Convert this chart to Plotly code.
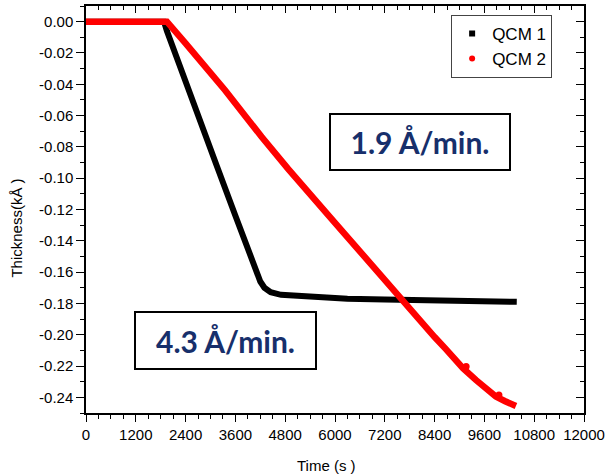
import plotly.graph_objects as go

# ---- data ----
qcm1_time = [0, 1880, 1950, 2123, 2720, 3157, 3600, 3900, 4100, 4200, 4300, 4450, 4700,
             5400, 6300, 7200, 8000, 9000, 10380]
qcm1_thick = [0.0, 0.0, -0.006, -0.018, -0.0615, -0.0925, -0.124, -0.145, -0.160, -0.166,
              -0.1700, -0.1728, -0.1745, -0.176, -0.177, -0.1775, -0.178, -0.1785, -0.179]

qcm2_time = [0, 1950, 2400, 3356, 4230, 4870, 6000, 7000, 7729, 8400, 8683, 9089, 9400,
             9876, 10100, 10360]
qcm2_thick = [0.0, 0.0, -0.0138, -0.0440, -0.0735, -0.094, -0.1285, -0.1595, -0.182, -0.2015,
              -0.2095, -0.2215, -0.229, -0.2395, -0.2425, -0.2455]

qcm2_outlier_time = [9160, 9950]
qcm2_outlier_thick = [-0.2203, -0.2385]

x_tick_vals = [0, 1200, 2400, 3600, 4800, 6000, 7200, 8400, 9600, 10800, 12000]
x_tick_text = ["0", "1200", "2400", "3600", "4800", "6000", "7200", "8400", "9600", "10800", "12000"]
y_tick_vals = [0.0, -0.02, -0.04, -0.06, -0.08, -0.10, -0.12, -0.14, -0.16, -0.18, -0.20, -0.22, -0.24]
y_tick_text = ["0.00", "-0.02", "-0.04", "-0.06", "-0.08", "-0.10", "-0.12", "-0.14", "-0.16",
               "-0.18", "-0.20", "-0.22", "-0.24"]

series_names = ["QCM 1", "QCM 2"]
rate_labels = ["1.9 Å/min.", "4.3 Å/min."]

BLACK = "#000000"
RED = "#ff0000"
NAVY = "#172f6b"
FONT = "Liberation Sans, Arial, sans-serif"

fig = go.Figure()

fig.add_trace(go.Scatter(x=qcm1_time, y=qcm1_thick, mode="lines",
                         line=dict(color=BLACK, width=6), showlegend=False))
fig.add_trace(go.Scatter(x=qcm2_time, y=qcm2_thick, mode="lines",
                         line=dict(color=RED, width=6.5), showlegend=False))
fig.add_trace(go.Scatter(x=qcm2_outlier_time, y=qcm2_outlier_thick, mode="markers",
                         marker=dict(color=RED, size=7), showlegend=False))

# legend-only entries (marker symbols as in the reference)
fig.add_trace(go.Scatter(x=[None], y=[None], mode="markers", name=series_names[0],
                         marker=dict(symbol="square", size=6, color=BLACK)))
fig.add_trace(go.Scatter(x=[None], y=[None], mode="markers", name=series_names[1],
                         marker=dict(symbol="circle", size=6, color=RED)))

# dummy trace for mirrored top/right axes
fig.add_trace(go.Scatter(x=[None], y=[None], xaxis="x2", yaxis="y2", showlegend=False,
                         hoverinfo="skip"))

axis_common = dict(showline=True, linecolor=BLACK, linewidth=1.5, showgrid=False,
                   zeroline=False, tickcolor=BLACK, tickwidth=1.3)

fig.update_layout(
    width=611, height=475,
    margin=dict(l=86, r=22, t=6, b=62),
    paper_bgcolor="white", plot_bgcolor="white",
    font=dict(family=FONT, color=BLACK, size=15),
    xaxis=dict(range=[0, 12000], tickmode="array", tickvals=x_tick_vals, ticktext=x_tick_text,
               ticks="outside", ticklen=7,
               minor=dict(dtick=300, tick0=0, ticks="outside", ticklen=4, tickcolor=BLACK, tickwidth=1.2),
               tickfont=dict(size=15), **axis_common),
    yaxis=dict(range=[-0.25, 0.01], tickmode="array", tickvals=y_tick_vals, ticktext=y_tick_text,
               ticks="outside", ticklen=8,
               minor=dict(dtick=0.01, tick0=0, ticks="outside", ticklen=4, tickcolor=BLACK, tickwidth=1.2),
               tickfont=dict(size=15), **axis_common),
    xaxis2=dict(overlaying="x", side="top", matches="x", range=[0, 12000],
                tickmode="array", tickvals=x_tick_vals, showticklabels=False,
                ticks="inside", ticklen=7,
                minor=dict(dtick=300, tick0=0, ticks="inside", ticklen=4, tickcolor=BLACK, tickwidth=1.2),
                **axis_common),
    yaxis2=dict(overlaying="y", side="right", matches="y", range=[-0.25, 0.01],
                tickmode="array", tickvals=y_tick_vals, showticklabels=False,
                ticks="inside", ticklen=8,
                minor=dict(dtick=0.01, tick0=0, ticks="inside", ticklen=4, tickcolor=BLACK, tickwidth=1.2),
                **axis_common),
    legend=dict(x=0.936, y=0.978, xanchor="right", yanchor="top",
                bgcolor="white", bordercolor="#444444", borderwidth=1,
                font=dict(size=17, family=FONT), tracegroupgap=0),
    showlegend=True,
)

annotations = [
    dict(text="Thickness(kÅ )", xref="paper", yref="paper", x=-0.139, y=0.455,
         textangle=-90, showarrow=False, font=dict(size=15, family=FONT),
         xanchor="center", yanchor="middle"),
    dict(text="Time (s )", xref="paper", yref="paper", x=0.483, y=-0.128,
         showarrow=False, font=dict(size=15, family=FONT), xanchor="center", yanchor="middle"),
    dict(text="<b>" + rate_labels[0] + "</b>", xref="x", yref="y", x=8039, y=-0.0768,
         showarrow=False, font=dict(size=30, family="Lato, sans-serif", color=NAVY),
         bordercolor=BLACK, borderwidth=2, borderpad=0, bgcolor="white",
         width=178, height=54, xanchor="center", yanchor="middle"),
    dict(text="<b>" + rate_labels[1] + "</b>", xref="x", yref="y", x=3352, y=-0.2034,
         showarrow=False, font=dict(size=30, family="Lato, sans-serif", color=NAVY),
         bordercolor=BLACK, borderwidth=2, borderpad=0, bgcolor="white",
         width=179, height=55, xanchor="center", yanchor="middle"),
]
fig.update_layout(annotations=annotations)

fig.write_html("out.html", config={"displayModeBar": False},
               post_script="document.body.style.margin='0';document.body.style.padding='0';")
